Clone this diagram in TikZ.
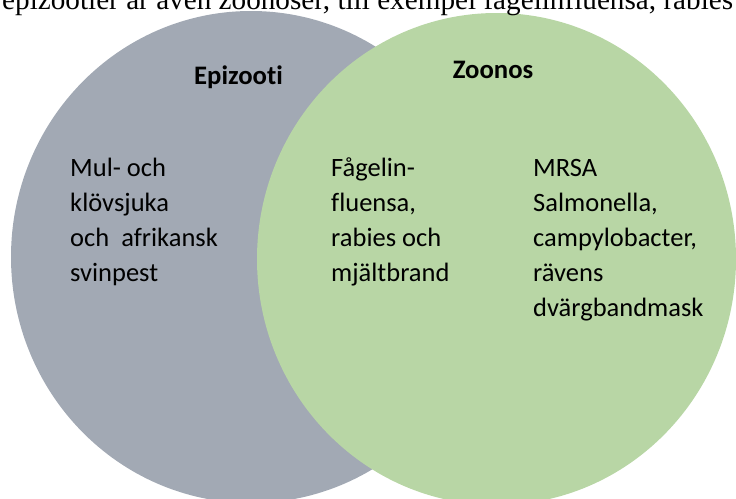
\documentclass[tikz,border=0pt]{standalone}
\usepackage{fontspec}
\setmainfont[Ligatures=NoCommon]{Carlito}
\newfontfamily\toptextfont{Liberation Serif}
\definecolor{epigray}{RGB}{162,169,180}
\definecolor{zoogreen}{RGB}{184,214,165}
\begin{document}
\begin{tikzpicture}[x=1pt,y=-1pt,
  bodytext/.style={anchor=north west,inner sep=0pt,align=left,
    font=\fontsize{26.5}{35}\selectfont},
  headtext/.style={anchor=base,inner sep=0pt,font=\bfseries\fontsize{26.7}{30}\selectfont}]
\useasboundingbox (0,0) rectangle (736,498);
\clip (0,0) rectangle (736,498);
\fill[epigray] (251,257) ellipse [x radius=240pt, y radius=246pt];
\fill[zoogreen] (496.5,259) ellipse [x radius=239.5pt, y radius=246pt];
\node[anchor=base west,inner sep=0pt,font=\toptextfont\fontsize{29.2}{34}\selectfont] (top) at (2,9.5)
  {epizootier är även zoonoser, till exempel fågelinfluensa, rabies};
\node[headtext] (epi) at (238.5,84) {Epizooti};
\node[headtext] (zoo) at (493,78.3) {Zoonos};
\node[bodytext] (left) at (70,151.5) {\strut Mul- och\\klövsjuka\\och\ \ afrikansk\\svinpest};
\node[bodytext] (mid) at (331,151.5) {\strut Fågelin-\\fluensa,\\rabies och\\mjältbrand};
\node[bodytext] (right) at (533,151.5) {\strut MRSA\\Salmonella,\\campylobacter,\\rävens\\dvärgbandmask};
\end{tikzpicture}
\end{document}
